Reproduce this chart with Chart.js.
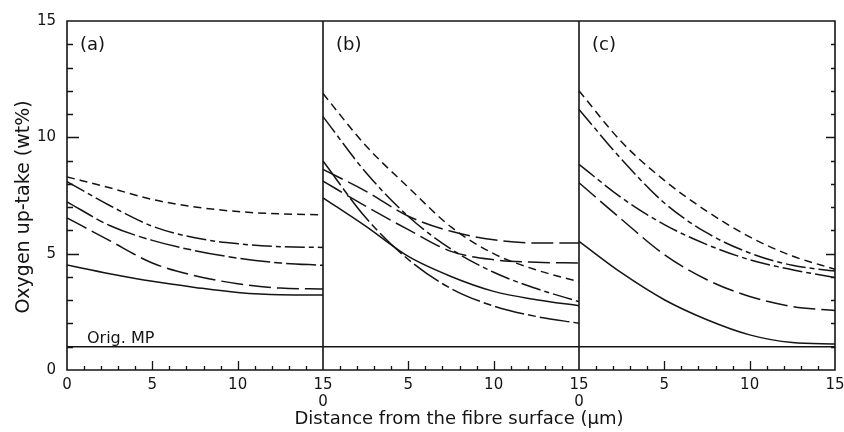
<!DOCTYPE html>
<html>
<head>
<meta charset="utf-8">
<script src="https://cdn.jsdelivr.net/npm/chart.js@4.4.1/dist/chart.umd.min.js"></script>
<style>
  html, body { margin: 0; padding: 0; background: #fff; }
  canvas { display: block; }
</style>
</head>
<body>
<canvas id="chart" width="844" height="432"></canvas>
<script>
// distance from the fibre surface (um), sampled in each panel
const DIST = [0, 2.5, 5, 7.5, 10, 12.5, 15];
const PANEL_SPAN = 15;
const PANEL_NAMES = ['(a)', '(b)', '(c)'];
const X_TICK_LABELS = [0, 5, 10, 15];
const Y_TICK_LABELS = [0, 5, 10, 15];
const ORIG_MP = 1.0;

// oxygen up-take (wt%) per curve, values at DIST
const panelA = [
  [8.3, 7.83, 7.33, 7.01, 6.81, 6.71, 6.67],
  [8.1, 7.07, 6.18, 5.68, 5.43, 5.3, 5.27],
  [7.23, 6.21, 5.57, 5.13, 4.81, 4.6, 4.5],
  [6.54, 5.56, 4.6, 4.05, 3.71, 3.52, 3.48],
  [4.51, 4.14, 3.81, 3.55, 3.33, 3.23, 3.22]
];
const panelB = [
  [11.88, 9.65, 7.85, 6.15, 5.0, 4.3, 3.8],
  [10.89, 8.5, 6.6, 5.2, 4.2, 3.5, 2.94],
  [8.98, 6.55, 4.75, 3.5, 2.75, 2.3, 2.01],
  [8.62, 7.69, 6.61, 5.96, 5.6, 5.46, 5.46],
  [8.12, 7.04, 6.03, 5.1, 4.74, 4.63, 4.6],
  [7.4, 6.18, 4.88, 4.02, 3.38, 3.02, 2.76]
];
const panelC = [
  [12.0, 9.8, 8.15, 6.82, 5.72, 4.9, 4.33],
  [11.2, 9.05, 7.18, 5.89, 5.03, 4.5, 4.25],
  [8.84, 7.4, 6.25, 5.39, 4.74, 4.31, 3.97],
  [8.05, 6.47, 4.96, 3.88, 3.16, 2.73, 2.56],
  [5.53, 4.17, 3.02, 2.16, 1.51, 1.18, 1.12]
];

const PANELS = [panelA, panelB, panelC];
const PANEL_STYLES = [
  ['short', 'dashDot', 'longDashDot', 'long', 'solid'],
  ['short', 'dashDot', 'longDashDot', 'long', 'long', 'solid'],
  ['short', 'dashDot', 'dashDot', 'long', 'solid']
];
const DASHES = {
  short: [8, 5],
  dashDot: [20, 4, 5, 4],
  longDashDot: [30, 4, 8, 4],
  long: [22, 6],
  solid: []
};

const INK = '#141414';
const FONT = 'DejaVu Sans';

const datasets = [];
PANELS.forEach((curves, p) => {
  curves.forEach((vals, i) => {
    datasets.push({
      data: DIST.map((d, k) => ({ x: p * PANEL_SPAN + d, y: vals[k] })),
      borderColor: INK,
      borderWidth: 1.5,
      borderDash: DASHES[PANEL_STYLES[p][i]],
      cubicInterpolationMode: 'monotone',
      pointRadius: 0,
      fill: false
    });
  });
});
datasets.push({
  data: [{ x: 0, y: ORIG_MP }, { x: PANEL_SPAN * PANELS.length, y: ORIG_MP }],
  borderColor: INK,
  borderWidth: 1.4,
  pointRadius: 0,
  fill: false
});

const framePlugin = {
  id: 'frame',
  afterDatasetsDraw(chart) {
    const { ctx, chartArea: a, scales: { x, y } } = chart;
    const xMax = PANEL_SPAN * PANELS.length;
    ctx.save();
    ctx.strokeStyle = INK;
    ctx.lineWidth = 1.6;
    ctx.beginPath();
    ctx.rect(a.left, a.top, a.right - a.left, a.bottom - a.top);
    for (let p = 1; p < PANELS.length; p++) {
      const px = x.getPixelForValue(p * PANEL_SPAN);
      ctx.moveTo(px, a.top);
      ctx.lineTo(px, a.bottom);
    }
    ctx.stroke();

    // inward tick marks
    ctx.lineWidth = 1.3;
    ctx.beginPath();
    for (let v = 1; v < xMax; v++) {
      if (v % PANEL_SPAN === 0) continue;
      const px = Math.round(x.getPixelForValue(v)) + 0.5;
      const len = v % 5 === 0 ? 9 : 4;
      ctx.moveTo(px, a.bottom);
      ctx.lineTo(px, a.bottom - len);
    }
    for (let v = 1; v < 15; v++) {
      const py = Math.round(y.getPixelForValue(v)) + 0.5;
      const major = v % 5 === 0;
      ctx.moveTo(a.left, py);
      ctx.lineTo(a.left + (major ? 12 : 6), py);
      ctx.moveTo(a.right, py);
      ctx.lineTo(a.right - (major ? 9 : 4), py);
    }
    ctx.stroke();

    // texts
    ctx.fillStyle = INK;
    ctx.textBaseline = 'middle';
    ctx.textAlign = 'left';
    ctx.font = `18px "${FONT}"`;
    PANEL_NAMES.forEach((name, p) => {
      ctx.fillText(name, x.getPixelForValue(p * PANEL_SPAN) + 13, 45);
    });

    ctx.font = `16px "${FONT}"`;
    ctx.textBaseline = 'alphabetic';
    ctx.fillText('Orig. MP', a.left + 20, y.getPixelForValue(ORIG_MP) - 4);

    ctx.textAlign = 'center';
    ctx.textBaseline = 'middle';
    ctx.font = `18px "${FONT}"`;
    ctx.fillText('Distance from the fibre surface (\u03bcm)', 459, 419);

    ctx.translate(24, 207);
    ctx.rotate(-Math.PI / 2);
    ctx.font = `19px "${FONT}"`;
    ctx.fillText('Oxygen up-take (wt%)', 0, 0);
    ctx.restore();
  }
};

new Chart(document.getElementById('chart'), {
  type: 'line',
  data: { datasets },
  plugins: [framePlugin],
  options: {
    responsive: false,
    animation: false,
    devicePixelRatio: 1,
    layout: { padding: { top: 21, right: 9, bottom: 0, left: 0 } },
    plugins: { legend: { display: false }, tooltip: { enabled: false } },
    scales: {
      x: {
        type: 'linear',
        min: 0,
        max: PANEL_SPAN * PANELS.length,
        grid: { display: false, drawTicks: false, tickLength: 0 },
        border: { display: false },
        afterBuildTicks(scale) {
          const vals = [];
          PANELS.forEach((_, p) => {
            X_TICK_LABELS.forEach(v => {
              const t = p * PANEL_SPAN + v;
              if (!vals.includes(t)) vals.push(t);
            });
          });
          scale.ticks = vals.map(v => ({ value: v }));
        },
        afterFit(scale) {
          scale.height = 62;
          scale.paddingLeft = 0;
          scale.paddingRight = 0;
        },
        ticks: {
          autoSkip: false,
          maxRotation: 0,
          padding: 7,
          color: INK,
          font: { family: FONT, size: 15, lineHeight: 1.12 },
          callback(value) {
            const last = PANEL_SPAN * PANELS.length;
            if (value === 0) return '0';
            if (value === last) return String(PANEL_SPAN);
            const local = value % PANEL_SPAN;
            if (local === 0) return [String(PANEL_SPAN), '0'];
            return String(local);
          }
        }
      },
      y: {
        min: 0,
        max: 15,
        grid: { display: false, drawTicks: false, tickLength: 0 },
        border: { display: false },
        afterBuildTicks(scale) {
          scale.ticks = Y_TICK_LABELS.map(v => ({ value: v }));
        },
        afterFit(scale) {
          scale.width = 67;
          scale.paddingTop = 0;
          scale.paddingBottom = 0;
        },
        ticks: {
          padding: 11,
          color: INK,
          font: { family: FONT, size: 15 }
        }
      }
    }
  }
});
</script>
</body>
</html>
